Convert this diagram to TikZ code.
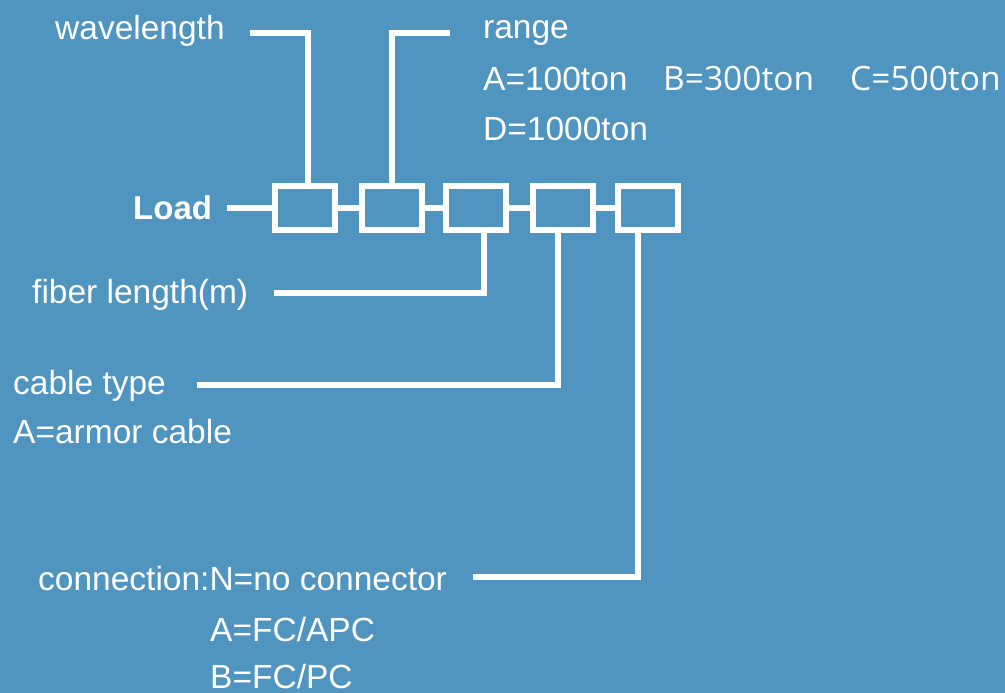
\documentclass[tikz,border=0pt]{standalone}
\usepackage{fontspec}
\setmainfont{Liberation Sans}
\newfontfamily\tonfont{Open Sans}
\usepackage{tikz}
\usetikzlibrary{positioning}
\definecolor{bgblue}{RGB}{80,148,192}

\begin{document}
\begin{tikzpicture}[
  x=1pt, y=-1pt,
  font=\fontsize{33.5}{40}\selectfont,
  cell/.style={draw=white, line width=6pt, minimum width=60pt,
               minimum height=44pt, inner sep=0pt},
  wire/.style={white, line width=6pt},
  lbl/.style={text=white, anchor=base west, inner sep=0pt}
]
\fill[bgblue] (0,0) rectangle (1005,693);
\useasboundingbox (0,0) rectangle (1005,693);
% code cells
\node[cell] (b1) at (305,208) {};
\node[cell] (b2) at (391.5,208) {};
\node[cell] (b3) at (476,208) {};
\node[cell] (b4) at (563,208) {};
\node[cell] (b5) at (647.5,208) {};
% labels
\node[lbl, font=\fontsize{33}{40}\selectfont\bfseries] (load) at (133,219) {Load};
\node[lbl] (wl) at (55,40) {wavelength};
\node[lbl] (rg) at (483,39) {range};
\node[lbl] (ra) at (483,91) {A=100ton};
\node[lbl, font=\fontsize{33.5}{40}\selectfont\tonfont] (rb) at (663,91) {B=300ton};
\node[lbl, font=\fontsize{33.5}{40}\selectfont\tonfont] (rc) at (850,91) {C=500ton};
\node[lbl] (rd) at (483,140) {D=1000ton};
\node[lbl] (fl) at (32,303) {fiber length(m)};
\node[lbl] (ct) at (13,394) {cable type};
\node[lbl] (ca) at (13,443) {A=armor cable};
\node[lbl] (cn) at (38,590) {connection:N=no connector};
\node[lbl] (cna) at (210,641) {A=FC/APC};
\node[lbl] (cnb) at (210,688) {B=FC/PC};
% free ends of the leader lines
\coordinate (wlend) at (250,33);
\coordinate (rgend) at (450,33);
\coordinate (ldend) at (227,208);
\coordinate (flend) at (274,293);
\coordinate (ctend) at (197,385);
\coordinate (cnend) at (473,577);
% chain
\draw[wire] (ldend) -- (b1);
\draw[wire] (b1) -- (b2);
\draw[wire] (b2) -- (b3);
\draw[wire] (b3) -- (b4);
\draw[wire] (b4) -- (b5);
% leaders
\draw[wire] (wlend) -| ([xshift=3pt]b1.north);
\draw[wire] (rgend) -| (b2.north);
\draw[wire] (flend) -| ([xshift=8pt]b3.south);
\draw[wire] (ctend) -| ([xshift=-5pt]b4.south);
\draw[wire] (cnend) -| ([xshift=-10pt]b5.south);
\end{tikzpicture}
\end{document}
